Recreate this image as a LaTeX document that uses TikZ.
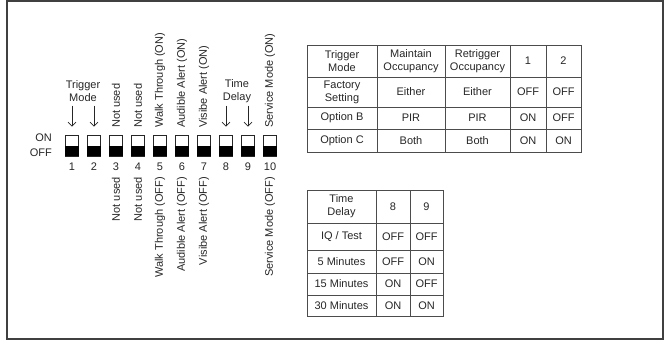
\documentclass[tikz,border=0pt]{standalone}
\usepackage{fontspec}
\setmainfont{Liberation Sans}
\usetikzlibrary{arrows.meta}
\begin{document}
\begin{tikzpicture}[x=1pt,y=-1pt,
  font=\fontsize{11}{13}\selectfont,
  txt/.style={inner sep=0pt, text=black!85, align=center},
  uplbl/.style={txt, rotate=90, anchor=west},
  dnlbl/.style={txt, rotate=90, anchor=east},
  swbox/.style={draw=black!85, line width=0.9pt, inner sep=0pt, minimum width=13pt, minimum height=21pt},
  arr/.style={-{Straight Barb[length=4pt,width=8pt]}, line width=0.7pt, black!85},
  grid/.style={draw=black!70, line width=0.8pt},
  frame/.style={draw=black!75, line width=1.3pt}]
\useasboundingbox (0,0) rectangle (665,348);
\draw[frame] (7,1) rectangle (663,339);
% switches
\foreach \i in {1,...,10}{
  \pgfmathsetmacro{\cx}{72+22*(\i-1)}
  \node[swbox] (sw\i) at (\cx,145.5) {};
  \fill[black] (sw\i.west) rectangle (sw\i.south east);
  \node[txt] (n\i) at (\cx,167) {\i};
}
\node[txt, anchor=east] (on) at (52,138) {ON};
\node[txt, anchor=east] (off) at (52,153) {OFF};
% arrows
\foreach \i in {1,2,8,9}{
  \coordinate (a\i) at ([yshift=29pt]sw\i.north);
  \coordinate (b\i) at ([yshift=8pt]sw\i.north);
  \draw[arr] (a\i) -- (b\i);
}
\node[txt] (tm) at (83,91) {Trigger\\Mode};
\node[txt] (td) at (237,91) {Time\\Delay};
% labels above
\node[uplbl] (u3) at (116,128) {Not used};
\node[uplbl] (u4) at (138,128) {Not used};
\node[uplbl] (u5) at (160,128) {Walk Through (ON)};
\node[uplbl] (u6) at (182,128) {Audible Alert (ON)};
\node[uplbl] (u7) at (204,128) {Visibe Alert (ON)};
\node[uplbl] (u10) at (270,128) {Service Mode (ON)};
% labels below
\node[dnlbl] (d3) at (116,177) {Not used};
\node[dnlbl] (d4) at (138,177) {Not used};
\node[dnlbl] (d5) at (160,177) {Walk Through (OFF)};
\node[dnlbl] (d6) at (182,177) {Audible Alert (OFF)};
\node[dnlbl] (d7) at (204,177) {Visibe Alert (OFF)};
\node[dnlbl] (d10) at (270,177) {Service Mode (OFF)};
% table 1
\draw[grid] (307,45) rectangle (581,152);
\foreach \x in {377,445,510,546}{\draw[grid] (\x,45) -- (\x,152);}
\foreach \y in {77,107,129}{\draw[grid] (307,\y) -- (581,\y);}
\node[txt] (t11) at (342,61) {Trigger\\Mode};
\node[txt] (t12) at (411,61) {Maintain\\Occupancy};
\node[txt] (t13) at (477.5,61) {Retrigger\\Occupancy};
\node[txt] (t14) at (528,61) {1};
\node[txt] (t15) at (563.5,61) {2};
\node[txt] (t21) at (342,92) {Factory\\Setting};
\node[txt] (t22) at (411,92) {Either};
\node[txt] (t23) at (477.5,92) {Either};
\node[txt] (t24) at (528,92) {OFF};
\node[txt] (t25) at (563.5,92) {OFF};
\node[txt] (t31) at (342,118) {Option B};
\node[txt] (t32) at (411,118) {PIR};
\node[txt] (t33) at (477.5,118) {PIR};
\node[txt] (t34) at (528,118) {ON};
\node[txt] (t35) at (563.5,118) {OFF};
\node[txt] (t41) at (342,140.5) {Option C};
\node[txt] (t42) at (411,140.5) {Both};
\node[txt] (t43) at (477.5,140.5) {Both};
\node[txt] (t44) at (528,140.5) {ON};
\node[txt] (t45) at (563.5,140.5) {ON};
% table 2
\draw[grid] (307,190) rectangle (443,316);
\foreach \x in {376,410}{\draw[grid] (\x,190) -- (\x,316);}
\foreach \y in {223,250,273,295}{\draw[grid] (307,\y) -- (443,\y);}
\node[txt] (s11) at (341.5,206.5) {Time\\Delay};
\node[txt] (s12) at (393,206.5) {8};
\node[txt] (s13) at (426.5,206.5) {9};
\node[txt] (s21) at (341.5,236.5) {IQ / Test};
\node[txt] (s22) at (393,236.5) {OFF};
\node[txt] (s23) at (426.5,236.5) {OFF};
\node[txt] (s31) at (341.5,261.5) {5 Minutes};
\node[txt] (s32) at (393,261.5) {OFF};
\node[txt] (s33) at (426.5,261.5) {ON};
\node[txt] (s41) at (341.5,284) {15 Minutes};
\node[txt] (s42) at (393,284) {ON};
\node[txt] (s43) at (426.5,284) {OFF};
\node[txt] (s51) at (341.5,305.5) {30 Minutes};
\node[txt] (s52) at (393,305.5) {ON};
\node[txt] (s53) at (426.5,305.5) {ON};
\end{tikzpicture}
\end{document}
